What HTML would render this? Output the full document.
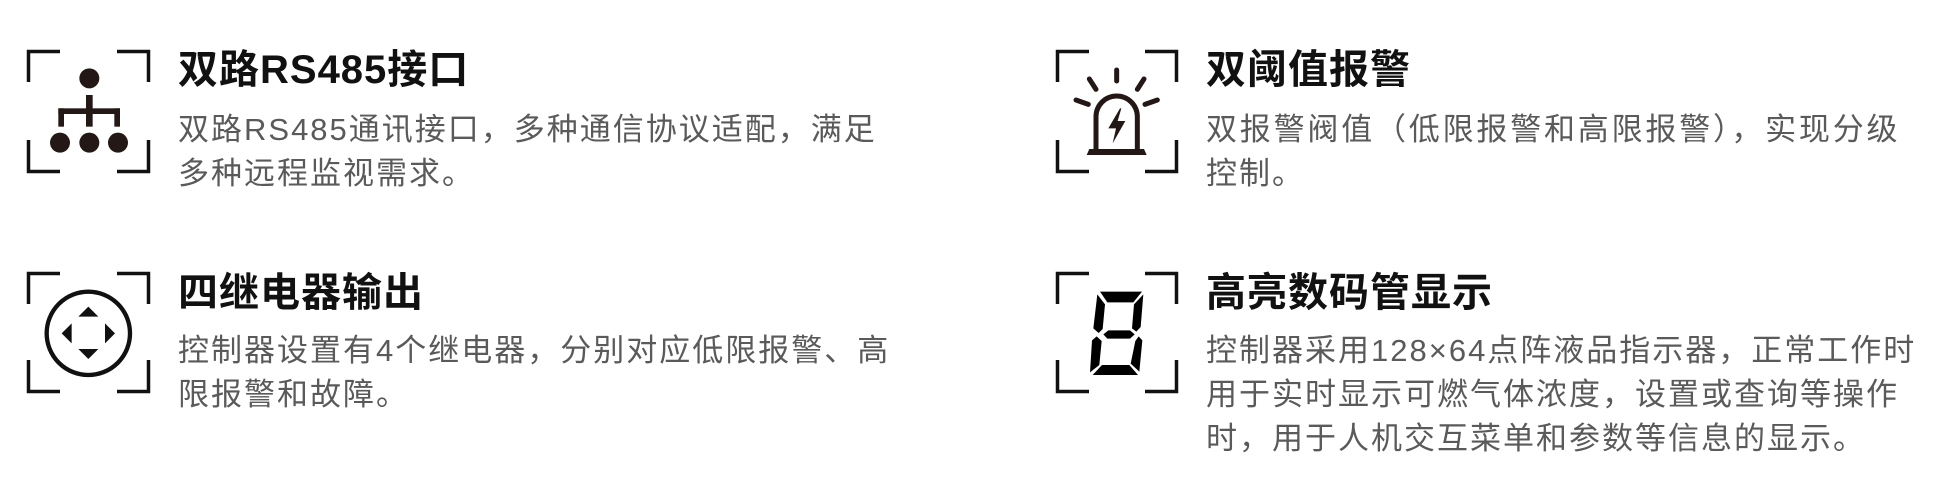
<!DOCTYPE html>
<html><head><meta charset="utf-8"><style>
html,body{margin:0;padding:0;background:#fff;}
body{width:1957px;height:491px;position:relative;overflow:hidden;font-family:"Liberation Sans","Noto Sans CJK SC",sans-serif;}
.t{position:absolute;font-size:40px;font-weight:bold;color:#111;line-height:40px;letter-spacing:1px;white-space:nowrap;}
.d{position:absolute;font-size:31px;color:#5a5a5a;line-height:44px;letter-spacing:2px;white-space:nowrap;}
svg{position:absolute;}
</style></head><body>

<svg width="1957" height="491" style="left:0;top:0">
<g fill="none" stroke="#111" stroke-width="3.5">
<path d="M28.5 82V51.5H60 M117 51.5H148.5V82 M28.5 140V171.5H60 M117 171.5H148.5V140"/>
<path d="M1057.5 82V51.5H1089 M1145 51.5H1176.5V82 M1057.5 140V171.5H1089 M1145 171.5H1176.5V140"/>
<path d="M28.5 304V273.5H60 M117 273.5H148.5V304 M28.5 360V391.5H60 M117 391.5H148.5V360"/>
<path d="M1057.5 304V273.5H1089 M1145 273.5H1176.5V304 M1057.5 360V391.5H1089 M1145 391.5H1176.5V360"/>
</g>
</svg>

<svg width="300" height="160" viewBox="0 0 900 480" style="left:0;top:30px">
<g fill="#231815">
<circle cx="268" cy="145" r="30"/>
<rect x="258" y="195" width="20" height="95"/>
<rect x="175" y="235" width="185" height="17"/>
<rect x="175" y="235" width="17" height="55"/>
<rect x="343" y="235" width="17" height="55"/>
<circle cx="180" cy="338" r="30"/>
<circle cx="268" cy="338" r="30"/>
<circle cx="354" cy="338" r="30"/>
</g>
</svg>

<svg width="135" height="135" viewBox="0 0 405 405" style="left:20px;top:265px">
<circle cx="205" cy="205" r="125" fill="none" stroke="#111" stroke-width="13"/>
<g fill="#111">
<polygon points="175,155 235,155 205,125"/>
<polygon points="175,252 235,252 205,282"/>
<polygon points="155,175 155,235 125,205"/>
<polygon points="255,175 255,235 285,205"/>
</g>
</svg>

<svg width="135" height="135" viewBox="0 0 405 405" style="left:1050px;top:45px">
<g stroke="#231815" stroke-width="15" stroke-linecap="round" fill="none">
<line x1="200" y1="75" x2="200" y2="108"/>
<line x1="118" y1="102" x2="138" y2="133"/>
<line x1="282" y1="102" x2="262" y2="133"/>
<line x1="78" y1="165" x2="115" y2="178"/>
<line x1="322" y1="165" x2="285" y2="178"/>
<path d="M138 312V215A62 62 0 0 1 262 215V312" stroke-linecap="butt"/>
</g>
<path d="M110 330L118 312H282L290 330Z" fill="#231815"/>
<polygon points="210,190 175,250 198,250 188,295 226,228 203,228 214,190" fill="#231815"/>
</svg>

<svg width="135" height="135" viewBox="0 0 405 405" style="left:1050px;top:265px">
<g fill="#000">
<polygon points="150,80 276,80 250,112 172,112"/>
<polygon points="142,88 165,118 158,192 146,204 130,190"/>
<polygon points="280,88 272,186 259,200 246,190 252,118"/>
<polygon points="160,208 175,196 240,196 254,208 240,221 172,221"/>
<polygon points="126,226 140,214 155,228 148,300 120,322"/>
<polygon points="256,228 266,214 277,226 268,320 242,296"/>
<polygon points="128,330 156,300 238,300 264,330"/>
</g>
</svg>

<div class="t" style="left:178px;top:50px">双路RS485接口</div>
<div class="d" style="left:178px;top:108px">双路RS485通讯接口，多种通信协议适配，满足</div>
<div class="d" style="left:178px;top:152px">多种远程监视需求。</div>

<div class="t" style="left:178px;top:273px">四继电器输出</div>
<div class="d" style="left:178px;top:329px">控制器设置有4个继电器，分别对应低限报警、高</div>
<div class="d" style="left:178px;top:373px">限报警和故障。</div>

<div class="t" style="left:1206px;top:50px">双阈值报警</div>
<div class="d" style="left:1206px;top:108px;letter-spacing:2.8px">双报警阀值（低限报警和高限报警），实现分级</div>
<div class="d" style="left:1206px;top:152px">控制。</div>

<div class="t" style="left:1206px;top:273px">高亮数码管显示</div>
<div class="d" style="left:1206px;top:329px">控制器采用128×64点阵液品指示器，正常工作时</div>
<div class="d" style="left:1206px;top:373px">用于实时显示可燃气体浓度，设置或查询等操作</div>
<div class="d" style="left:1206px;top:417px">时，用于人机交互菜单和参数等信息的显示。</div>

</body></html>
